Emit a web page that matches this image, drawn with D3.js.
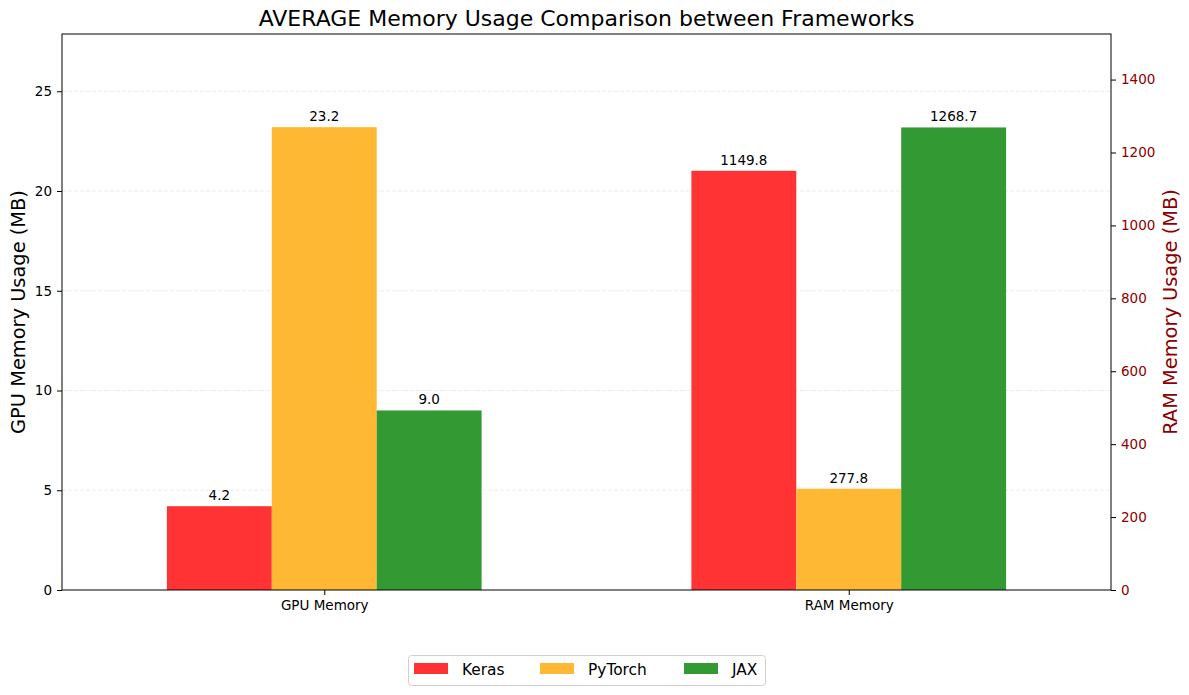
<!DOCTYPE html>
<html>
<head>
<meta charset="utf-8">
<script src="https://cdn.jsdelivr.net/npm/d3@7"></script>
<style>
  html, body { margin: 0; padding: 0; background: #fff; }
  svg { display: block; font-family: "DejaVu Sans", sans-serif; }
</style>
</head>
<body>
<svg id="chart" width="1189" height="695"></svg>
<script>
// ---- data ----
const categories = ["GPU Memory", "RAM Memory"];
const frameworks = ["Keras", "PyTorch", "JAX"];
const gpuValues = [4.2, 23.2, 9.0];        // left axis (MB)
const ramValues = [1149.8, 277.8, 1268.7]; // right axis (MB)
const leftTicks = [0, 5, 10, 15, 20, 25];
const rightTicks = [0, 200, 400, 600, 800, 1000, 1200, 1400];
const colors = ["rgb(255,51,51)", "rgb(255,184,51)", "rgb(51,153,51)"];

const svg = d3.select("#chart");
const M = { left: 62, right: 1111, top: 34, bottom: 590 };

// x scale: positions -0.5 .. 1.5 like matplotlib
const x = d3.scaleLinear().domain([-0.5, 1.5]).range([M.left, M.right]);
const yL = d3.scaleLinear().domain([0, 27.87]).range([M.bottom, M.top]);
const yR = d3.scaleLinear().domain([0, 1525]).range([M.bottom, M.top]);
const barW = 0.2;

// grid (left axis ticks)
svg.append("g").selectAll("line")
  .data(leftTicks.filter(d => d > 0))
  .join("line")
  .attr("x1", M.left).attr("x2", M.right)
  .attr("y1", d => yL(d)).attr("y2", d => yL(d))
  .attr("stroke", "#b0b0b0").attr("stroke-opacity", 0.3)
  .attr("stroke-width", 0.8).attr("stroke-dasharray", "4,2");

// bars
const series = [
  { cat: 0, vals: gpuValues, scale: yL },
  { cat: 1, vals: ramValues, scale: yR }
];
const barG = svg.append("g");
const labG = svg.append("g").attr("font-size", "13.5px").attr("fill", "#000").attr("text-anchor", "middle");
series.forEach(s => {
  s.vals.forEach((v, i) => {
    const cx = s.cat + (i - 1) * barW;
    const x0 = x(cx - barW / 2), x1 = x(cx + barW / 2);
    barG.append("rect")
      .attr("x", x0).attr("width", x1 - x0)
      .attr("y", s.scale(v)).attr("height", s.scale(0) - s.scale(v))
      .attr("fill", colors[i]);
    labG.append("text")
      .attr("x", (x0 + x1) / 2).attr("y", s.scale(v) - 6)
      .text(v.toFixed(1));
  });
});

// frame
svg.append("rect")
  .attr("x", M.left).attr("y", M.top)
  .attr("width", M.right - M.left).attr("height", M.bottom - M.top)
  .attr("fill", "none").attr("stroke", "#000").attr("stroke-width", 1);

// left axis
const gL = svg.append("g").attr("transform", `translate(${M.left},0)`)
  .call(d3.axisLeft(yL).tickValues(leftTicks).tickSize(5).tickPadding(5).tickFormat(d3.format("d")));
gL.select(".domain").remove();
gL.selectAll("text").attr("font-size", "13.5px").attr("font-family", "DejaVu Sans").attr("fill", "#000");
gL.selectAll("line").attr("stroke", "#000");

// right axis
const darkred = "#8b0000";
const gR = svg.append("g").attr("transform", `translate(${M.right},0)`)
  .call(d3.axisRight(yR).tickValues(rightTicks).tickSize(5).tickPadding(5).tickFormat(d3.format("d")));
gR.select(".domain").remove();
gR.selectAll("text").attr("font-size", "13.5px").attr("font-family", "DejaVu Sans").attr("fill", darkred);
gR.selectAll("line").attr("stroke", "#000");

// bottom axis
const gB = svg.append("g").attr("transform", `translate(0,${M.bottom})`)
  .call(d3.axisBottom(x).tickValues([0, 1]).tickSize(5).tickPadding(5).tickFormat(d => categories[d]));
gB.select(".domain").remove();
gB.selectAll("text").attr("font-size", "13.5px").attr("font-family", "DejaVu Sans").attr("fill", "#000");
gB.selectAll("line").attr("stroke", "#000");

// title
svg.append("text")
  .attr("x", (M.left + M.right) / 2).attr("y", 26)
  .attr("text-anchor", "middle").attr("font-size", "22px").attr("fill", "#000")
  .text("AVERAGE Memory Usage Comparison between Frameworks");

// axis labels
svg.append("text")
  .attr("transform", `translate(25,${(M.top + M.bottom) / 2}) rotate(-90)`)
  .attr("text-anchor", "middle").attr("font-size", "19.4px").attr("fill", "#000")
  .text("GPU Memory Usage (MB)");
svg.append("text")
  .attr("transform", `translate(1177,${(M.top + M.bottom) / 2}) rotate(-90)`)
  .attr("text-anchor", "middle").attr("font-size", "19.4px").attr("fill", darkred)
  .text("RAM Memory Usage (MB)");

// legend
const lg = svg.append("g");
lg.append("rect")
  .attr("x", 408.5).attr("y", 655.5).attr("width", 357).attr("height", 30)
  .attr("rx", 3).attr("fill", "#fff").attr("stroke", "#d0d0d0").attr("stroke-width", 1);
const legX = [414, 540, 684];
frameworks.forEach((f, i) => {
  lg.append("rect").attr("x", legX[i]).attr("y", 663).attr("width", 34).attr("height", 11).attr("fill", colors[i]);
  lg.append("text").attr("x", legX[i] + 48).attr("y", 675)
    .attr("font-size", "15.4px").attr("fill", "#000").text(f);
});
</script>
</body>
</html>
